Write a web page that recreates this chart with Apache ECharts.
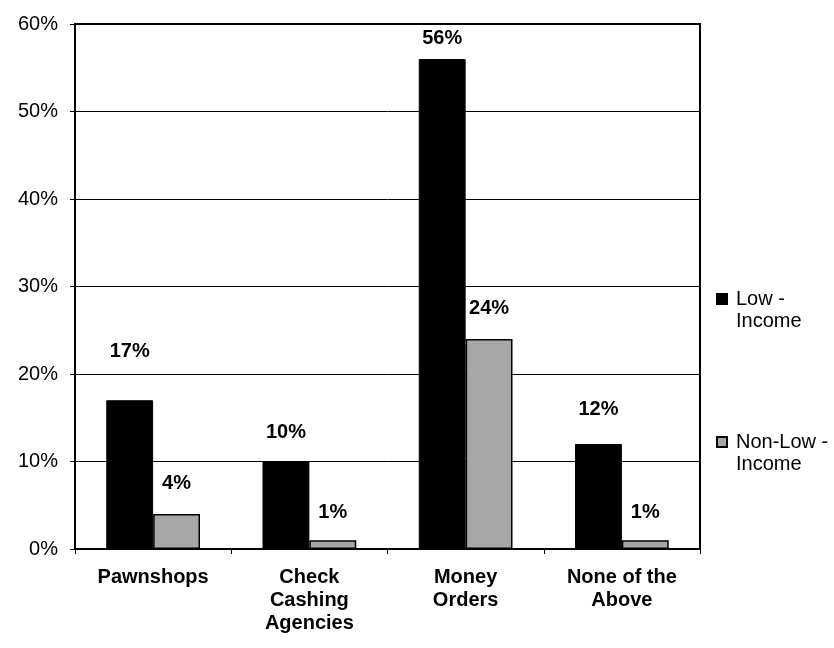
<!DOCTYPE html>
<html><head><meta charset="utf-8">
<script src="https://cdn.jsdelivr.net/npm/echarts@6/dist/echarts.min.js"></script>
<style>html,body{margin:0;padding:0;background:#fff}#c{width:834px;height:648px}</style>
</head><body><div id="c"></div>
<script>
const categories = ['Pawnshops', 'Check\nCashing\nAgencies', 'Money\nOrders', 'None of the\nAbove'];
const lowIncome = [17, 10, 56, 12];
const nonLowIncome = [4, 1, 24, 1];
const seriesNames = ['Low -\nIncome', 'Non-Low -\nIncome'];

// label gap above each bar (layout only)
const lowLabelGap = [39, 19, 11, 25];
const nonLowLabelGap = [21, 18, 21, 18];

const chart = echarts.init(document.getElementById('c'));
const font = '"Liberation Sans", Arial, sans-serif';
const lbl = {show: true, position: 'top', distance: 20, formatter: '{c}%', color: '#000', fontFamily: font, fontWeight: 'bold', fontSize: 20};
const withGaps = (vals, gaps) => vals.map((v, i) => ({value: v, label: {distance: gaps[i]}}));
chart.setOption({
  animation: false,
  backgroundColor: '#fff',
  grid: {left: 75, right: 134, top: 24, bottom: 99, show: true, borderColor: '#000', borderWidth: 2, containLabel: false},
  legend: {
    orient: 'vertical', left: 711, top: 261, itemGap: 77,
    itemWidth: 10, itemHeight: 10, icon: 'rect',
    formatter: n => '\n' + n,
    textStyle: {fontFamily: font, fontSize: 20, color: '#000', lineHeight: 22, padding: [0, 0, 0, 4]},
    data: seriesNames
  },
  xAxis: {
    type: 'category', data: categories,
    axisLine: {lineStyle: {color: '#000', width: 2}},
    axisTick: {show: true, length: 5, lineStyle: {color: '#000'}},
    axisLabel: {margin: 17, fontFamily: font, fontWeight: 'bold', fontSize: 20, color: '#000', lineHeight: 23, interval: 0}
  },
  yAxis: {
    type: 'value', min: 0, max: 60, interval: 10,
    axisLine: {show: true, lineStyle: {color: '#000', width: 2}},
    axisTick: {show: true, length: 5, lineStyle: {color: '#000'}},
    axisLabel: {formatter: '{value}%', margin: 17, fontFamily: font, fontSize: 20, color: '#000'},
    splitLine: {lineStyle: {color: '#000', width: 1}}
  },
  series: [
    {name: seriesNames[0], type: 'bar', data: withGaps(lowIncome, lowLabelGap), barGap: '0%', barCategoryGap: '40%',
     itemStyle: {color: '#000', borderColor: '#000', borderWidth: 1}, label: lbl},
    {name: seriesNames[1], type: 'bar', data: withGaps(nonLowIncome, nonLowLabelGap),
     itemStyle: {color: '#a6a6a6', borderColor: '#000', borderWidth: 1.5}, label: lbl}
  ]
});
</script></body></html>
